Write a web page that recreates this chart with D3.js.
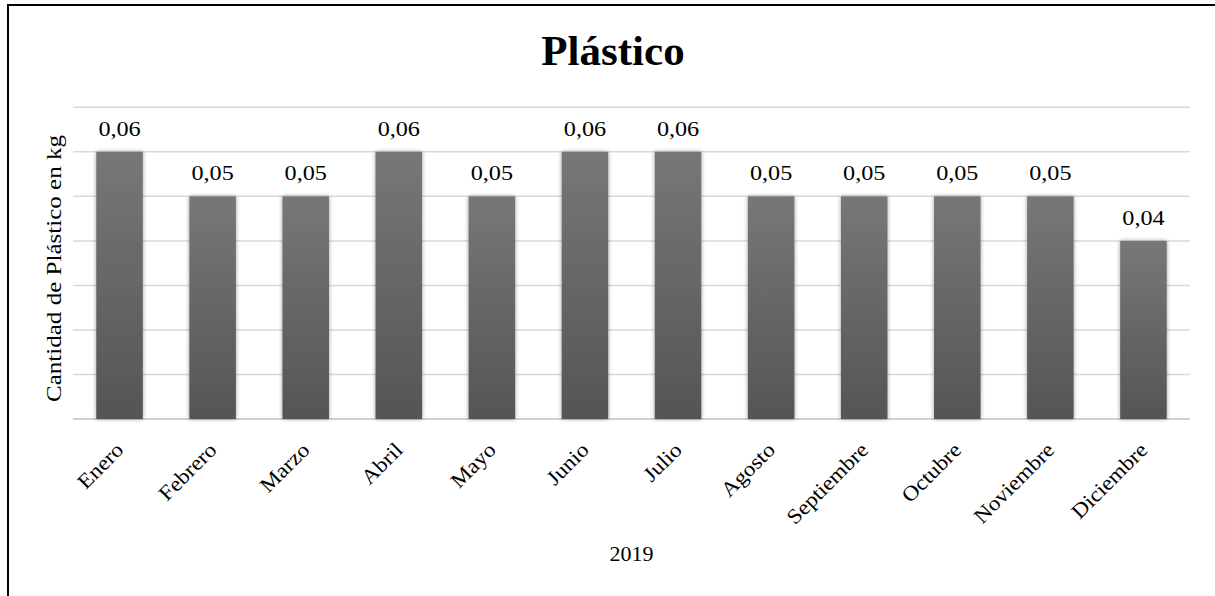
<!DOCTYPE html>
<html>
<head>
<meta charset="utf-8">
<script src="https://cdn.jsdelivr.net/npm/d3@7"></script>
<style>
  html, body { margin: 0; padding: 0; background: #fff; }
  svg { display: block; font-family: "Liberation Serif", "Times New Roman", serif; }
</style>
</head>
<body>
<div id="chart"></div>
<script>
// Data
const months = ["Enero", "Febrero", "Marzo", "Abril", "Mayo", "Junio", "Julio",
  "Agosto", "Septiembre", "Octubre", "Noviembre", "Diciembre"];
const values = [0.06, 0.05, 0.05, 0.06, 0.05, 0.06, 0.06, 0.05, 0.05, 0.05, 0.05, 0.04];
const gridTicks = [0, 0.01, 0.02, 0.03, 0.04, 0.05, 0.06, 0.07];

const W = 1215, H = 596;
const plot = { left: 73, right: 1190, top: 107.3, bottom: 419 };

const svg = d3.select("#chart").append("svg")
  .attr("width", W).attr("height", H);

// defs: bar gradient + soft shadow
const defs = svg.append("defs");
const grad = defs.append("linearGradient")
  .attr("id", "barGrad").attr("x1", 0).attr("y1", 0).attr("x2", 0).attr("y2", 1);
grad.append("stop").attr("offset", "0%").attr("stop-color", "#777777");
grad.append("stop").attr("offset", "100%").attr("stop-color", "#555555");

const shadow = defs.append("filter").attr("id", "barShadow")
  .attr("x", "-30%").attr("y", "-10%").attr("width", "160%").attr("height", "120%");
shadow.append("feGaussianBlur").attr("in", "SourceAlpha").attr("stdDeviation", 2.2).attr("result", "blur");
shadow.append("feComponentTransfer").attr("in", "blur").attr("result", "faint")
  .append("feFuncA").attr("type", "linear").attr("slope", 0.4);
const merge = shadow.append("feMerge");
merge.append("feMergeNode").attr("in", "faint");
merge.append("feMergeNode").attr("in", "SourceGraphic");

// chart border (right/bottom edges fall outside the picture)
svg.append("rect")
  .attr("x", 8).attr("y", 5).attr("width", 1300).attr("height", 700)
  .attr("fill", "none").attr("stroke", "#000").attr("stroke-width", 2);

// scales
const x = d3.scaleBand()
  .domain(months)
  .range([plot.left, plot.right])
  .paddingInner(0.5)
  .paddingOuter(0.25);

const y = d3.scaleLinear()
  .domain([0, 0.07])
  .range([plot.bottom, plot.top]);

// gridlines
svg.append("g").attr("class", "grid")
  .selectAll("line")
  .data(gridTicks)
  .join("line")
  .attr("x1", plot.left).attr("x2", plot.right)
  .attr("y1", d => y(d)).attr("y2", d => y(d))
  .attr("stroke", d => d === 0 ? "#d0d0d0" : "#d9d9d9")
  .attr("stroke-width", d => d === 0 ? 2 : 1.5);

// bars
svg.append("g").attr("class", "bars")
  .selectAll("rect")
  .data(months)
  .join("rect")
  .attr("x", d => x(d))
  .attr("width", x.bandwidth())
  .attr("y", (d, i) => y(values[i]))
  .attr("height", (d, i) => y(0) - y(values[i]))
  .attr("fill", "url(#barGrad)")
  .attr("filter", "url(#barShadow)");

// data labels
const fmt = v => d3.format(".2f")(v).replace(".", ",");
svg.append("g").attr("class", "labels")
  .selectAll("text")
  .data(months)
  .join("text")
  .attr("transform", (d, i) =>
    `translate(${x(d) + x.bandwidth() / 2},${y(values[i]) - 16}) scale(1.1,1)`)
  .attr("text-anchor", "middle")
  .attr("font-size", 22)
  .attr("fill", "#000")
  .text((d, i) => fmt(values[i]));

// month labels, rotated
svg.append("g").attr("class", "x-labels")
  .selectAll("text")
  .data(months)
  .join("text")
  .attr("transform", d =>
    `translate(${x(d) + x.bandwidth() / 2},446) rotate(-45) scale(1.1,1)`)
  .attr("text-anchor", "end")
  .attr("dy", "0.35em")
  .attr("font-size", 21)
  .attr("fill", "#000")
  .text(d => d);

// axis titles
svg.append("text")
  .attr("x", (plot.left + plot.right) / 2)
  .attr("y", 561)
  .attr("text-anchor", "middle")
  .attr("font-size", 22)
  .text("2019");

svg.append("text")
  .attr("transform", "translate(61,268.5) rotate(-90)")
  .attr("text-anchor", "middle")
  .attr("font-size", 21)
  .attr("textLength", 267)
  .attr("lengthAdjust", "spacingAndGlyphs")
  .text("Cantidad de Plástico en kg");

// title
svg.append("text")
  .attr("x", 613)
  .attr("y", 65)
  .attr("text-anchor", "middle")
  .attr("font-size", 43)
  .attr("font-weight", "bold")
  .text("Plástico");
</script>
</body>
</html>
